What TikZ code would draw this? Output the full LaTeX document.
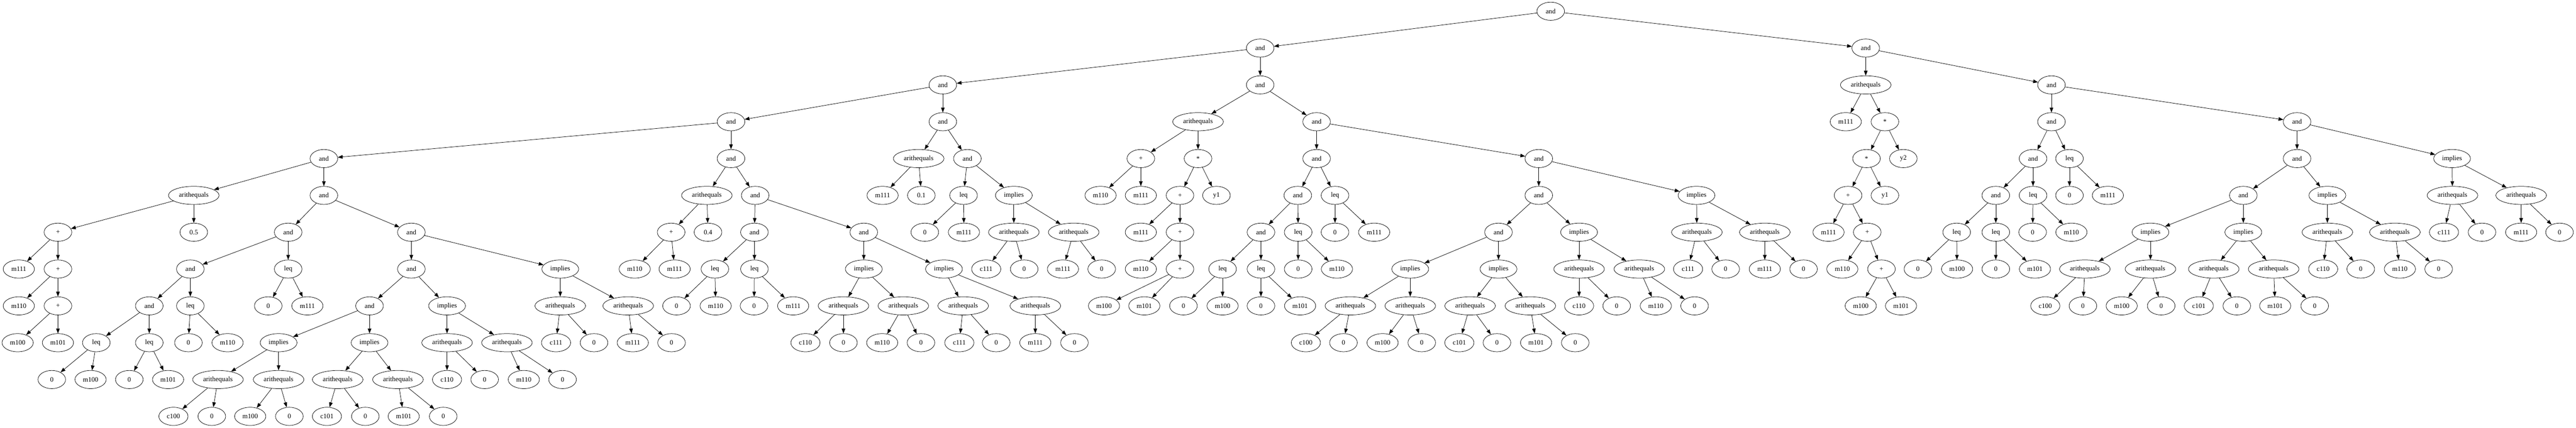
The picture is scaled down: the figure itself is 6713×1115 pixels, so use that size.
\documentclass[tikz,border=0pt]{standalone}
\usepackage{fontspec}
\setmainfont{Liberation Serif}
\usetikzlibrary{shapes.geometric,arrows.meta}
\tikzset{
  nd/.style={draw, ellipse, inner sep=0pt, minimum height=35.5pt, line width=0.75pt, font=\fontsize{13.2}{15}\selectfont},
  nsm/.style={nd, minimum width=54pt},
  nmm/.style={nd, minimum width=61pt},
  ncc/.style={nd, minimum width=57pt},
  nim/.style={nd, minimum width=72pt},
  nar/.style={nd, minimum width=99pt},
  conn/.style={line width=0.75pt, -{Triangle[length=9.5pt,width=7pt]}}
}
\newcommand\TN[6]{\node[#2] (#1) at (#3,{29.33+96*#4}) {#5}; \draw[conn] (#6) -- (#1);}
\begin{document}
\begin{tikzpicture}[x=0.75pt,y=-0.75pt]
\fill[white] (0,0) rectangle (6713,1115);
\useasboundingbox (0,0) rectangle (6713,1115);
\node[nsm] (r) at (4041,29.33) {and};
% L1
\TN{a}{nsm}{3284}{1}{and}{r}
\TN{b}{nsm}{4862}{1}{and}{r}
% L2
\TN{a1}{nsm}{2457}{2}{and}{a}
\TN{a2}{nsm}{3284}{2}{and}{a}
\TN{b1}{nar}{4862}{2}{arithequals}{b}
\TN{b2}{nsm}{5346}{2}{and}{b}
% L3
\TN{a11}{nsm}{1905}{3}{and}{a1}
\TN{a12}{nsm}{2457}{3}{and}{a1}
\TN{a21}{nar}{3122}{3}{arithequals}{a2}
\TN{a22}{nsm}{3431}{3}{and}{a2}
\TN{b11}{nmm}{4810}{3}{m111}{b1}
\TN{b12}{nsm}{4912}{3}{*}{b1}
\TN{b21}{nsm}{5346}{3}{and}{b2}
\TN{b22}{nsm}{5986}{3}{and}{b2}
% L4
\TN{d1}{nsm}{844}{4}{and}{a11}
\TN{d2}{nsm}{1905}{4}{and}{a11}
\TN{d3}{nar}{2394}{4}{arithequals}{a12}
\TN{d4}{nsm}{2521}{4}{and}{a12}
\TN{d5}{nsm}{2973}{4}{+}{a21}
\TN{d6}{nsm}{3122}{4}{*}{a21}
\TN{d7}{nsm}{3431}{4}{and}{a22}
\TN{d8}{nsm}{4010}{4}{and}{a22}
\TN{d9}{nsm}{4864}{4}{*}{b12}
\TN{d10}{nsm}{4960}{4}{y2}{b12}
\TN{d11}{nsm}{5298}{4}{and}{b21}
\TN{d12}{nsm}{5393}{4}{leq}{b21}
\TN{d13}{nsm}{5986}{4}{and}{b22}
\TN{d14}{nim}{6390}{4}{implies}{b22}
% L5
\TN{e1}{nar}{505}{5}{arithequals}{d1}
\TN{e2}{nsm}{844}{5}{and}{d1}
\TN{e3}{nar}{1842}{5}{arithequals}{d2}
\TN{e4}{nsm}{1968}{5}{and}{d2}
\TN{e5}{nmm}{2300}{5}{m111}{d3}
\TN{e6}{nsm}{2401}{5}{0.1}{d3}
\TN{e7}{nsm}{2511}{5}{leq}{d4}
\TN{e8}{nim}{2642}{5}{implies}{d4}
\TN{e9}{nmm}{2868}{5}{m110}{d5}
\TN{e10}{nmm}{2973}{5}{m111}{d5}
\TN{e11}{nsm}{3075}{5}{+}{d6}
\TN{e12}{nsm}{3170}{5}{y1}{d6}
\TN{e13}{nsm}{3382}{5}{and}{d7}
\TN{e14}{nsm}{3479}{5}{leq}{d7}
\TN{e15}{nsm}{4010}{5}{and}{d8}
\TN{e16}{nim}{4421}{5}{implies}{d8}
\TN{e17}{nsm}{4816}{5}{+}{d9}
\TN{e18}{nsm}{4912}{5}{y1}{d9}
\TN{e19}{nsm}{5201}{5}{and}{d11}
\TN{e20}{nsm}{5298}{5}{leq}{d11}
\TN{e21}{nsm}{5393}{5}{0}{d12}
\TN{e22}{nmm}{5493}{5}{m111}{d12}
\TN{e23}{nsm}{5846}{5}{and}{d13}
\TN{e24}{nim}{6065}{5}{implies}{d13}
\TN{e25}{nar}{6391}{5}{arithequals}{d14}
\TN{e26}{nar}{6570}{5}{arithequals}{d14}
% L6
\TN{f1}{nsm}{151}{6}{+}{e1}
\TN{f2}{nsm}{505}{6}{0.5}{e1}
\TN{f3}{nsm}{751}{6}{and}{e2}
\TN{f4}{nsm}{1072}{6}{and}{e2}
\TN{f5}{nsm}{1749}{6}{+}{e3}
\TN{f6}{nsm}{1845}{6}{0.4}{e3}
\TN{f7}{nsm}{1966}{6}{and}{e4}
\TN{f8}{nsm}{2251}{6}{and}{e4}
\TN{f9}{nsm}{2410}{6}{0}{e7}
\TN{f10}{nmm}{2512}{6}{m111}{e7}
\TN{f11}{nar}{2642}{6}{arithequals}{e8}
\TN{f12}{nar}{2798}{6}{arithequals}{e8}
\TN{f13}{nmm}{2973}{6}{m111}{e11}
\TN{f14}{nsm}{3075}{6}{+}{e11}
\TN{f15}{nsm}{3286}{6}{and}{e13}
\TN{f16}{nsm}{3383}{6}{leq}{e13}
\TN{f17}{nsm}{3479}{6}{0}{e14}
\TN{f18}{nmm}{3581}{6}{m111}{e14}
\TN{f19}{nsm}{3905}{6}{and}{e15}
\TN{f20}{nim}{4115}{6}{implies}{e15}
\TN{f21}{nar}{4422}{6}{arithequals}{e16}
\TN{f22}{nar}{4599}{6}{arithequals}{e16}
\TN{f23}{nmm}{4765}{6}{m111}{e17}
\TN{f24}{nsm}{4866}{6}{+}{e17}
\TN{f25}{nsm}{5099}{6}{leq}{e19}
\TN{f26}{nsm}{5201}{6}{leq}{e19}
\TN{f27}{nsm}{5297}{6}{0}{e20}
\TN{f28}{nmm}{5398}{6}{m110}{e20}
\TN{f29}{nim}{5604}{6}{implies}{e23}
\TN{f30}{nim}{5846}{6}{implies}{e23}
\TN{f31}{nar}{6065}{6}{arithequals}{e24}
\TN{f32}{nar}{6241}{6}{arithequals}{e24}
\TN{f33}{ncc}{6369}{6}{c111}{e25}
\TN{f34}{nsm}{6468}{6}{0}{e25}
\TN{f35}{nmm}{6570}{6}{m111}{e26}
\TN{f36}{nsm}{6670}{6}{0}{e26}
% L7
\TN{g1}{nmm}{49}{7}{m111}{f1}
\TN{g2}{nsm}{151}{7}{+}{f1}
\TN{g3}{nsm}{496}{7}{and}{f3}
\TN{g4}{nsm}{751}{7}{leq}{f3}
\TN{g5}{nsm}{1072}{7}{and}{f4}
\TN{g6}{nim}{1460}{7}{implies}{f4}
\TN{g7}{nmm}{1654}{7}{m110}{f5}
\TN{g8}{nmm}{1758}{7}{m111}{f5}
\TN{g9}{nsm}{1863}{7}{leq}{f7}
\TN{g10}{nsm}{1966}{7}{leq}{f7}
\TN{g11}{nim}{2251}{7}{implies}{f8}
\TN{g12}{nim}{2460}{7}{implies}{f8}
\TN{g13}{ncc}{2570}{7}{c111}{f11}
\TN{g14}{nsm}{2669}{7}{0}{f11}
\TN{g15}{nmm}{2770}{7}{m111}{f12}
\TN{g16}{nsm}{2871}{7}{0}{f12}
\TN{g17}{nmm}{2973}{7}{m110}{f14}
\TN{g18}{nsm}{3075}{7}{+}{f14}
\TN{g19}{nsm}{3186}{7}{leq}{f15}
\TN{g20}{nsm}{3286}{7}{leq}{f15}
\TN{g21}{nsm}{3383}{7}{0}{f16}
\TN{g22}{nmm}{3484}{7}{m110}{f16}
\TN{g23}{nim}{3675}{7}{implies}{f19}
\TN{g24}{nim}{3905}{7}{implies}{f19}
\TN{g25}{nar}{4115}{7}{arithequals}{f20}
\TN{g26}{nar}{4272}{7}{arithequals}{f20}
\TN{g27}{ncc}{4399}{7}{c111}{f21}
\TN{g28}{nsm}{4497}{7}{0}{f21}
\TN{g29}{nmm}{4599}{7}{m111}{f22}
\TN{g30}{nsm}{4700}{7}{0}{f22}
\TN{g31}{nmm}{4801}{7}{m110}{f24}
\TN{g32}{nsm}{4903}{7}{+}{f24}
\TN{g33}{nsm}{4998}{7}{0}{f25}
\TN{g34}{nmm}{5100}{7}{m100}{f25}
\TN{g35}{nsm}{5201}{7}{0}{f26}
\TN{g36}{nmm}{5303}{7}{m101}{f26}
\TN{g37}{nar}{5433}{7}{arithequals}{f29}
\TN{g38}{nar}{5604}{7}{arithequals}{f29}
\TN{g39}{nar}{5769}{7}{arithequals}{f30}
\TN{g40}{nar}{5925}{7}{arithequals}{f30}
\TN{g41}{ncc}{6054}{7}{c110}{f31}
\TN{g42}{nsm}{6152}{7}{0}{f31}
\TN{g43}{nmm}{6254}{7}{m110}{f32}
\TN{g44}{nsm}{6355}{7}{0}{f32}
% L8
\TN{h1}{nmm}{49}{8}{m110}{g2}
\TN{h2}{nsm}{151}{8}{+}{g2}
\TN{h3}{nsm}{389}{8}{and}{g3}
\TN{h4}{nsm}{496}{8}{leq}{g3}
\TN{h5}{nsm}{699}{8}{0}{g4}
\TN{h6}{nmm}{801}{8}{m111}{g4}
\TN{h7}{nsm}{963}{8}{and}{g5}
\TN{h8}{nim}{1165}{8}{implies}{g5}
\TN{h9}{nar}{1460}{8}{arithequals}{g6}
\TN{h10}{nar}{1637}{8}{arithequals}{g6}
\TN{h11}{nsm}{1763}{8}{0}{g9}
\TN{h12}{nmm}{1865}{8}{m110}{g9}
\TN{h13}{nsm}{1965}{8}{0}{g10}
\TN{h14}{nmm}{2067}{8}{m111}{g10}
\TN{h15}{nar}{2198}{8}{arithequals}{g11}
\TN{h16}{nar}{2354}{8}{arithequals}{g11}
\TN{h17}{nar}{2510}{8}{arithequals}{g12}
\TN{h18}{nar}{2698}{8}{arithequals}{g12}
\TN{h19}{nmm}{2877}{8}{m100}{g18}
\TN{h20}{nmm}{2982}{8}{m101}{g18}
\TN{h21}{nsm}{3084}{8}{0}{g19}
\TN{h22}{nmm}{3186}{8}{m100}{g19}
\TN{h23}{nsm}{3286}{8}{0}{g20}
\TN{h24}{nmm}{3388}{8}{m101}{g20}
\TN{h25}{nar}{3519}{8}{arithequals}{g23}
\TN{h26}{nar}{3675}{8}{arithequals}{g23}
\TN{h27}{nar}{3831}{8}{arithequals}{g24}
\TN{h28}{nar}{3988}{8}{arithequals}{g24}
\TN{h29}{ncc}{4115}{8}{c110}{g25}
\TN{h30}{nsm}{4213}{8}{0}{g25}
\TN{h31}{nmm}{4315}{8}{m110}{g26}
\TN{h32}{nsm}{4416}{8}{0}{g26}
\TN{h33}{nmm}{4849}{8}{m100}{g32}
\TN{h34}{nmm}{4954}{8}{m101}{g32}
\TN{h35}{ncc}{5330}{8}{c100}{g37}
\TN{h36}{nsm}{5428}{8}{0}{g37}
\TN{h37}{nmm}{5529}{8}{m100}{g38}
\TN{h38}{nsm}{5632}{8}{0}{g38}
\TN{h39}{ncc}{5730}{8}{c101}{g39}
\TN{h40}{nsm}{5829}{8}{0}{g39}
\TN{h41}{nmm}{5929}{8}{m101}{g40}
\TN{h42}{nsm}{6032}{8}{0}{g40}
% L9
\TN{i1}{nmm}{46}{9}{m100}{h2}
\TN{i2}{nmm}{151}{9}{m101}{h2}
\TN{i3}{nsm}{251}{9}{leq}{h3}
\TN{i4}{nsm}{389}{9}{leq}{h3}
\TN{i5}{nsm}{491}{9}{0}{h4}
\TN{i6}{nmm}{593}{9}{m110}{h4}
\TN{i7}{nim}{726}{9}{implies}{h7}
\TN{i8}{nim}{963}{9}{implies}{h7}
\TN{i9}{nar}{1165}{9}{arithequals}{h8}
\TN{i10}{nar}{1321}{9}{arithequals}{h8}
\TN{i11}{ncc}{1449}{9}{c111}{h9}
\TN{i12}{nsm}{1548}{9}{0}{h9}
\TN{i13}{nmm}{1649}{9}{m111}{h10}
\TN{i14}{nsm}{1750}{9}{0}{h10}
\TN{i15}{ncc}{2099}{9}{c110}{h15}
\TN{i16}{nsm}{2198}{9}{0}{h15}
\TN{i17}{nmm}{2299}{9}{m110}{h16}
\TN{i18}{nsm}{2400}{9}{0}{h16}
\TN{i19}{ncc}{2500}{9}{c111}{h17}
\TN{i20}{nsm}{2596}{9}{0}{h17}
\TN{i21}{nmm}{2698}{9}{m111}{h18}
\TN{i22}{nsm}{2800}{9}{0}{h18}
\TN{i23}{ncc}{3403}{9}{c100}{h25}
\TN{i24}{nsm}{3501}{9}{0}{h25}
\TN{i25}{nmm}{3603}{9}{m100}{h26}
\TN{i26}{nsm}{3705}{9}{0}{h26}
\TN{i27}{ncc}{3803}{9}{c101}{h27}
\TN{i28}{nsm}{3901}{9}{0}{h27}
\TN{i29}{nmm}{4003}{9}{m101}{h28}
\TN{i30}{nsm}{4105}{9}{0}{h28}
% L10
\TN{j1}{nsm}{135}{10}{0}{i3}
\TN{j2}{nmm}{236}{10}{m100}{i3}
\TN{j3}{nsm}{337}{10}{0}{i4}
\TN{j4}{nmm}{438}{10}{m101}{i4}
\TN{j5}{nar}{568}{10}{arithequals}{i7}
\TN{j6}{nar}{726}{10}{arithequals}{i7}
\TN{j7}{nar}{880}{10}{arithequals}{i8}
\TN{j8}{nar}{1037}{10}{arithequals}{i8}
\TN{j9}{ncc}{1165}{10}{c110}{i9}
\TN{j10}{nsm}{1263}{10}{0}{i9}
\TN{j11}{nmm}{1365}{10}{m110}{i10}
\TN{j12}{nsm}{1466}{10}{0}{i10}
% L11
\TN{k1}{ncc}{452}{11}{c100}{j5}
\TN{k2}{nsm}{552}{11}{0}{j5}
\TN{k3}{nmm}{652}{11}{m100}{j6}
\TN{k4}{nsm}{754}{11}{0}{j6}
\TN{k5}{ncc}{852}{11}{c101}{j7}
\TN{k6}{nsm}{952}{11}{0}{j7}
\TN{k7}{nmm}{1052}{11}{m101}{j8}
\TN{k8}{nsm}{1155}{11}{0}{j8}
\end{tikzpicture}
\end{document}
